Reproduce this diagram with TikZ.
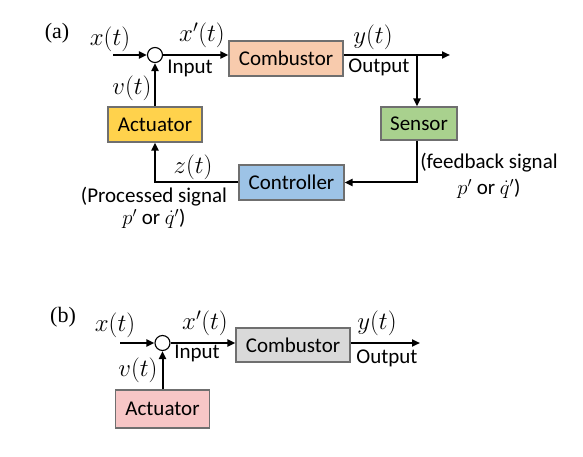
\documentclass[tikz,border=0pt]{standalone}
\usepackage{fontspec}
\setmainfont{Carlito}
\newfontfamily\tagfont{Liberation Serif}
\usepackage{tikz}
\usetikzlibrary{arrows.meta}
\definecolor{comb_a}{HTML}{F8CBAD}
\definecolor{act_a}{HTML}{FFD24C}
\definecolor{sens}{HTML}{A9D18E}
\definecolor{ctrl}{HTML}{9DC3E6}
\definecolor{comb_b}{HTML}{D9D9D9}
\definecolor{act_b}{HTML}{F7C6C6}
\definecolor{boxline}{HTML}{6F6F6F}

\begin{document}
\begin{tikzpicture}[x=1pt, y=-1pt]
            \tikzstyle{block} = [draw = boxline, line width = 1.2pt, inner sep = 0pt, font = \fontsize{21}{24}\selectfont];
            \tikzstyle{lbl} = [inner sep = 0pt, font = \fontsize{21}{24}\selectfont];
            \tikzstyle{sumpt} = [circle, draw, line width = 1.1pt, fill = white, minimum size = 15pt, inner sep = 0pt];
            \tikzstyle{sig} = [line width = 2pt, -{Triangle[length = 8pt, width = 7pt]}];
            \useasboundingbox (0,0) rectangle (583,457);
            % (a) closed loop
            \node[block, fill = comb_a, minimum width = 114pt, minimum height = 35pt] (comb_a) at (286,58.5) {Combustor};
            \node[block, fill = act_a, minimum width = 94pt, minimum height = 35pt] (act_a) at (155,124.5) {Actuator};
            \node[block, fill = sens, minimum width = 76pt, minimum height = 33pt] (sens) at (419,123.5) {Sensor};
            \node[block, fill = ctrl, minimum width = 105pt, minimum height = 35pt] (ctrl) at (291.5,182.5) {Controller};
            \node[sumpt] (sum_a) at (155,55) {};
            \coordinate (xin_a) at (113,55);
            \coordinate (yout_a) at (450,55);
            \coordinate (br_a) at (417,55);
            % (b) open loop
            \node[block, fill = comb_b, minimum width = 114pt, minimum height = 34pt] (comb_b) at (293,345) {Combustor};
            \node[block, fill = act_b, minimum width = 94pt, minimum height = 38pt] (act_b) at (162.5,409) {Actuator};
            \node[sumpt] (sum_b) at (162.5,343) {};
            \coordinate (xin_b) at (120,343);
            \coordinate (yout_b) at (420,343);
            \foreach \n/\x/\y/\t in {tag_a/57/33/{\tagfont\fontsize{22}{24}\selectfont (a)},
                x_a/110/39/{\fontsize{23}{24}\selectfont$x(t)$}, xp_a/202/35/{\fontsize{23}{24}\selectfont$x'(t)$}, in_a/190/68/{Input},
                y_a/373/37/{\fontsize{23}{24}\selectfont$y(t)$}, out_a/379/67/{Output}, v_a/132/88/{\fontsize{23}{24}\selectfont$v(t)$},
                z_a/193/167/{\fontsize{23}{24}\selectfont$z(t)$},
                tag_b/63/317/{\tagfont\fontsize{22}{24}\selectfont (b)},
                x_b/115/325/{\fontsize{23}{24}\selectfont$x(t)$}, xp_b/205/323/{\fontsize{23}{24}\selectfont$x'(t)$}, in_b/197/353/{Input},
                y_b/377/323/{\fontsize{23}{24}\selectfont$y(t)$}, out_b/387/358/{Output}, v_b/138/370/{\fontsize{23}{24}\selectfont$v(t)$}}
            {\node[lbl] (\n) at (\x,\y) {\t};}
            \node[lbl, align = center] (fb) at (489,176) {(feedback signal\\[2pt] $p'$ or $\dot{q}'$)};
            \node[lbl, align = center] (pr) at (154,208) {(Processed signal\\[-2pt] $p'$ or $\dot{q}'$)};
            \draw[sig] (xin_a) -- (sum_a);
            \draw[sig] (sum_a) -- (sum_a -| comb_a.west);
            \draw[sig] (comb_a.east |- sum_a) -- (yout_a);
            \draw[sig] (br_a) -- (br_a |- sens.north);
            \draw[sig] (sens.south -| br_a) |- (ctrl.east);
            \draw[sig] (ctrl.west) -| (act_a.south);
            \draw[sig] (act_a.north) -- (sum_a.south);
            \draw[sig] (xin_b) -- (sum_b);
            \draw[sig] (sum_b) -- (sum_b -| comb_b.west);
            \draw[sig] (comb_b.east |- sum_b) -- (yout_b);
            \draw[sig] (act_b.north) -- (sum_b.south);
        \end{tikzpicture}
\end{document}
